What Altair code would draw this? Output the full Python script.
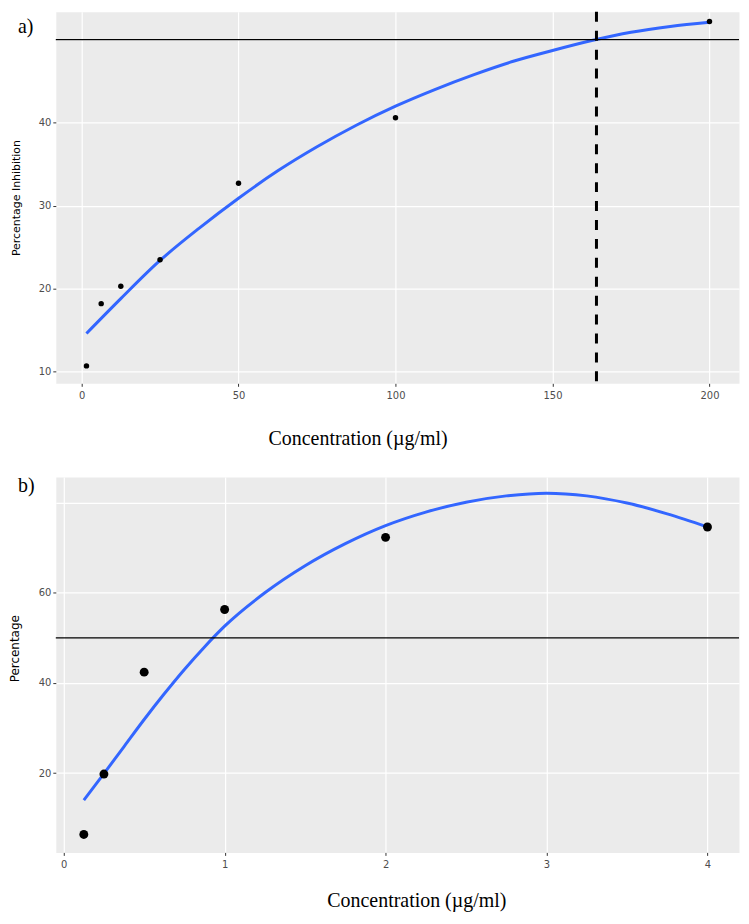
import altair as alt
import pandas as pd

# ---- data ----
conc_a = [1.5625, 6.25, 12.5, 25, 50, 100, 200]
inhib_a = [10.7, 18.2, 20.3, 23.5, 32.7, 40.6, 52.2]
# fitted curve of panel a
fit_a_x = [1.5625, 12.5, 25, 37.5, 50, 62.5, 75, 87.5, 100, 112.5, 125, 137.5, 150, 162.5, 175, 187.5, 200]
fit_a_y = [14.6, 18.8, 23.4, 27.3, 30.9, 34.2, 37.1, 39.7, 42.0, 44.0, 45.8, 47.4, 48.7, 49.9, 50.9, 51.6, 52.1]

conc_b = [0.125, 0.25, 0.5, 1, 2, 4]
pct_b = [6.4, 19.8, 42.4, 56.3, 72.3, 74.6]
# fitted curve of panel b
fit_b_x = [0.125, 0.25, 0.375, 0.5, 0.625, 0.75, 0.875, 1, 1.25, 1.5, 1.75, 2, 2.25, 2.5, 2.75, 3, 3.25, 3.5, 3.75, 4]
fit_b_y = [14.0, 19.9, 25.9, 31.9, 37.6, 43.0, 48.0, 52.6, 60.0, 66.0, 70.9, 74.9, 77.9, 80.1, 81.5, 82.1, 81.5, 79.9, 77.5, 74.6]

threshold = [50]
ic50_a = [164]
panel_labels = ["a)", "b)"]
x_ticks_a = [0, 50, 100, 150, 200]
y_ticks_a = [10, 20, 30, 40, 50]
x_ticks_b = [0, 1, 2, 3, 4]
y_ticks_b = [20, 40, 60, 80]
x_title = "Concentration (µg/ml)"
y_title_a = "Percentage Inhibition"
y_title_b = "Percentage"

df_a = pd.DataFrame({"conc": conc_a, "val": inhib_a})
df_fa = pd.DataFrame({"conc": fit_a_x, "val": fit_a_y})
df_b = pd.DataFrame({"conc": conc_b, "val": pct_b})
df_fb = pd.DataFrame({"conc": fit_b_x, "val": fit_b_y})

LABEL_FONT = "DejaVu Sans"
LABEL_COLOR = "#4D4D4D"


def x_axis(values, tx, ty):
    return alt.Axis(
        values=values, title=x_title, grid=True, gridColor="white", gridWidth=1.2,
        domain=False, tickColor="#333333", tickSize=3, labelPadding=4,
        labelFont=LABEL_FONT, labelFontSize=10, labelColor=LABEL_COLOR,
        titleFont="Liberation Serif", titleFontSize=20, titleFontWeight="normal",
        titleColor="black", titleX=tx, titleY=ty, titleAlign="center",
        titleBaseline="alphabetic",
    )


def y_axis(values, hide, title, size, tx, ty=None):
    kw = dict(
        values=values, title=title, grid=True, gridColor="white", gridWidth=1.2,
        domain=False,
        tickColor={"condition": {"test": f"datum.value == {hide}", "value": "transparent"}, "value": "#333333"},
        tickSize=3, labelPadding=2,
        labelExpr=f"datum.value == {hide} ? '' : datum.label",
        labelFont=LABEL_FONT, labelFontSize=10, labelColor=LABEL_COLOR,
        titleFont=LABEL_FONT, titleFontSize=size, titleFontWeight="normal",
        titleColor="black", titleX=tx, titleBaseline="bottom", titleAngle=-90,
    )
    if ty is not None:
        kw["titleY"] = ty
    return alt.Axis(**kw)


# ---- panel a ----
sx_a = alt.Scale(domain=[-8.2, 209.4], nice=False, zero=False)
sy_a = alt.Scale(domain=[8.6, 53.36], nice=False, zero=False)
xa = alt.X("conc:Q", scale=sx_a, axis=x_axis(x_ticks_a, 303, 61))
ya = alt.Y("val:Q", scale=sy_a, axis=y_axis(y_ticks_a, 50, y_title_a, 11, -34))

pts_a = alt.Chart(df_a).mark_circle(color="black", size=30, opacity=1).encode(x=xa, y=ya)
fit_a = alt.Chart(df_fa).mark_line(color="#3366FF", strokeWidth=3, interpolate="monotone").encode(x=xa, y=ya)
hline_a = alt.Chart(pd.DataFrame({"t": threshold})).mark_rule(color="black", strokeWidth=1.3).encode(
    y=alt.Y("t:Q", scale=sy_a))
vline_a = alt.Chart(pd.DataFrame({"v": ic50_a})).mark_rule(
    color="black", strokeWidth=3, strokeDash=[10, 9]).encode(x=alt.X("v:Q", scale=sx_a))
lab_a = alt.Chart(pd.DataFrame({"t": [panel_labels[0]]})).mark_text(
    font="Liberation Serif", fontSize=20, align="left", baseline="alphabetic", color="black").encode(
    x=alt.value(-38), y=alt.value(21), text="t:N")

panel_a = alt.layer(fit_a, hline_a, vline_a, pts_a, lab_a).properties(width=686, height=373)

# ---- panel b ----
sx_b = alt.Scale(domain=[-0.049, 4.196], nice=False, zero=False)
sy_b = alt.Scale(domain=[2.42, 85.7], nice=False, zero=False)
xb = alt.X("conc:Q", scale=sx_b, axis=x_axis(x_ticks_b, 362, 54))
yb = alt.Y("val:Q", scale=sy_b, axis=y_axis(y_ticks_b, 80, y_title_b, 12, -34, 172))

pts_b = alt.Chart(df_b).mark_circle(color="black", size=80, opacity=1).encode(x=xb, y=yb)
fit_b = alt.Chart(df_fb).mark_line(color="#3366FF", strokeWidth=3, interpolate="monotone").encode(x=xb, y=yb)
hline_b = alt.Chart(pd.DataFrame({"t": threshold})).mark_rule(color="black", strokeWidth=1.3).encode(
    y=alt.Y("t:Q", scale=sy_b))
lab_b = alt.Chart(pd.DataFrame({"t": [panel_labels[1]]})).mark_text(
    font="Liberation Serif", fontSize=20, align="left", baseline="alphabetic", color="black").encode(
    x=alt.value(-38), y=alt.value(15), text="t:N")

panel_b = alt.layer(fit_b, hline_b, pts_b, lab_b).properties(width=686, height=377)

chart = alt.vconcat(panel_a, panel_b, spacing=94, bounds="flush").properties(
    padding={"left": 0, "top": 0, "right": 0, "bottom": 0}, background="white"
).configure_view(fill="#EBEBEB", stroke="transparent")

chart.save("out.html", embed_options={"renderer": "svg", "actions": False})
